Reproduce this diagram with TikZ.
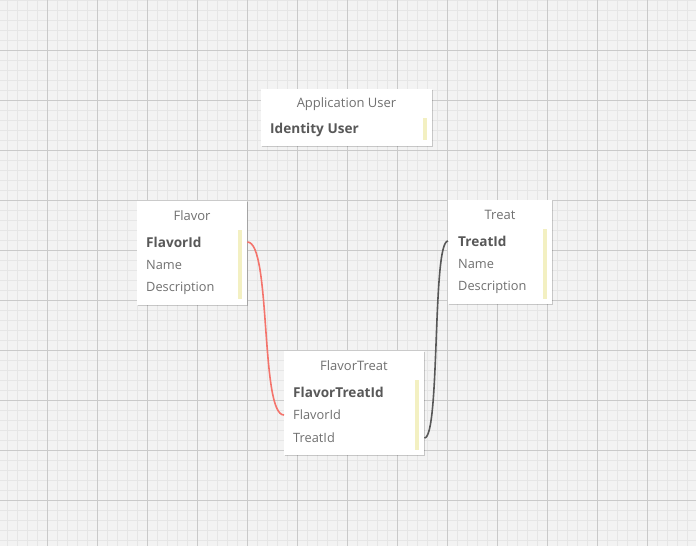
\documentclass[tikz,border=0pt]{standalone}
\usepackage{fontspec}
\setmainfont{Open Sans}
\usetikzlibrary{shadows}
\definecolor{bgc}{HTML}{F3F3F3}
\definecolor{minorc}{HTML}{E6E6E6}
\definecolor{majorc}{HTML}{CACACA}
\definecolor{txtc}{HTML}{707070}
\definecolor{keyc}{HTML}{585858}
\definecolor{barc}{HTML}{F3F0C2}
\definecolor{redc}{HTML}{F4746C}
\definecolor{darkc}{HTML}{585858}
\tikzset{
  minorline/.style={draw=minorc, line width=0.9pt},
  majorline/.style={draw=majorc, line width=0.9pt},
  entity/.style={fill=white, draw=none, anchor=north west, inner sep=0pt,
     drop shadow={shadow xshift=0.6pt, shadow yshift=-0.8pt, opacity=0.18, fill=black}},
  title/.style={text=txtc, font=\fontsize{13}{15}\selectfont, inner sep=0pt},
  keyrow/.style={text=keyc, font=\fontsize{13.6}{15}\selectfont\bfseries, anchor=west, inner sep=0pt},
  fieldrow/.style={text=txtc, font=\fontsize{12.8}{15}\selectfont, anchor=west, inner sep=0pt},
  bar/.style={fill=barc, draw=none, anchor=north west, inner sep=0pt, minimum width=3.5pt},
  rel/.style={line width=1.6pt}
}
\begin{document}
\begin{tikzpicture}[x=1pt,y=-1pt]
\fill[bgc] (0,0) rectangle (696,546);
\useasboundingbox (0,0) rectangle (696,546);
\foreach \i in {0,...,69} {\draw[minorline] (7.5+10*\i,0) -- (7.5+10*\i,546);}
\foreach \i in {0,...,54} {\draw[minorline] (0,10*\i+0.5) -- (696,10*\i+0.5);}
\foreach \i in {0,...,13} {\draw[majorline] (47.5+50*\i,0) -- (47.5+50*\i,546);}
\foreach \i in {1,...,10} {\draw[majorline] (0,50*\i+0.5) -- (696,50*\i+0.5);}

% Application User
\node[entity, minimum width=171pt, minimum height=57pt] (app) at (261,89) {};
\node[title] (apptitle) at (346.5,104) {Application User};
\node[keyrow] (appid) at (270,130) {Identity User};
\node[bar, minimum height=22pt] (appbar) at (423,118) {};

% Flavor
\node[entity, minimum width=110pt, minimum height=104pt] (flavor) at (137,201) {};
\node[title] (flavortitle) at (192,216) {Flavor};
\node[keyrow] (flavorid) at (146,242) {FlavorId};
\node[fieldrow] (flavorname) at (146,265) {Name};
\node[fieldrow] (flavordesc) at (146,288) {Description};
\node[bar, minimum height=69pt] (flavorbar) at (238,230) {};

% Treat
\node[entity, minimum width=104pt, minimum height=104pt] (treat) at (448,200) {};
\node[title] (treattitle) at (500,215) {Treat};
\node[keyrow] (treatid) at (458,241) {TreatId};
\node[fieldrow] (treatname) at (458,264) {Name};
\node[fieldrow] (treatdesc) at (458,287) {Description};
\node[bar, minimum height=70pt] (treatbar) at (543,229) {};

% FlavorTreat
\node[entity, minimum width=140pt, minimum height=104pt] (ft) at (284,351) {};
\node[title] (fttitle) at (354,366) {FlavorTreat};
\node[keyrow] (ftid) at (293,392) {FlavorTreatId};
\node[fieldrow] (ftflavor) at (293,415) {FlavorId};
\node[fieldrow] (fttreat) at (293,438) {TreatId};
\node[bar, minimum height=70pt] (ftbar) at (415,380) {};

% relations
\draw[rel, redc] (flavor.east |- flavorid) .. controls +(24,0) and +(-24,0) .. (ft.west |- ftflavor);
\draw[rel, darkc] (ft.east |- fttreat) .. controls +(16,0) and +(-16,0) .. (treat.west |- treatid);
\end{tikzpicture}
\end{document}
